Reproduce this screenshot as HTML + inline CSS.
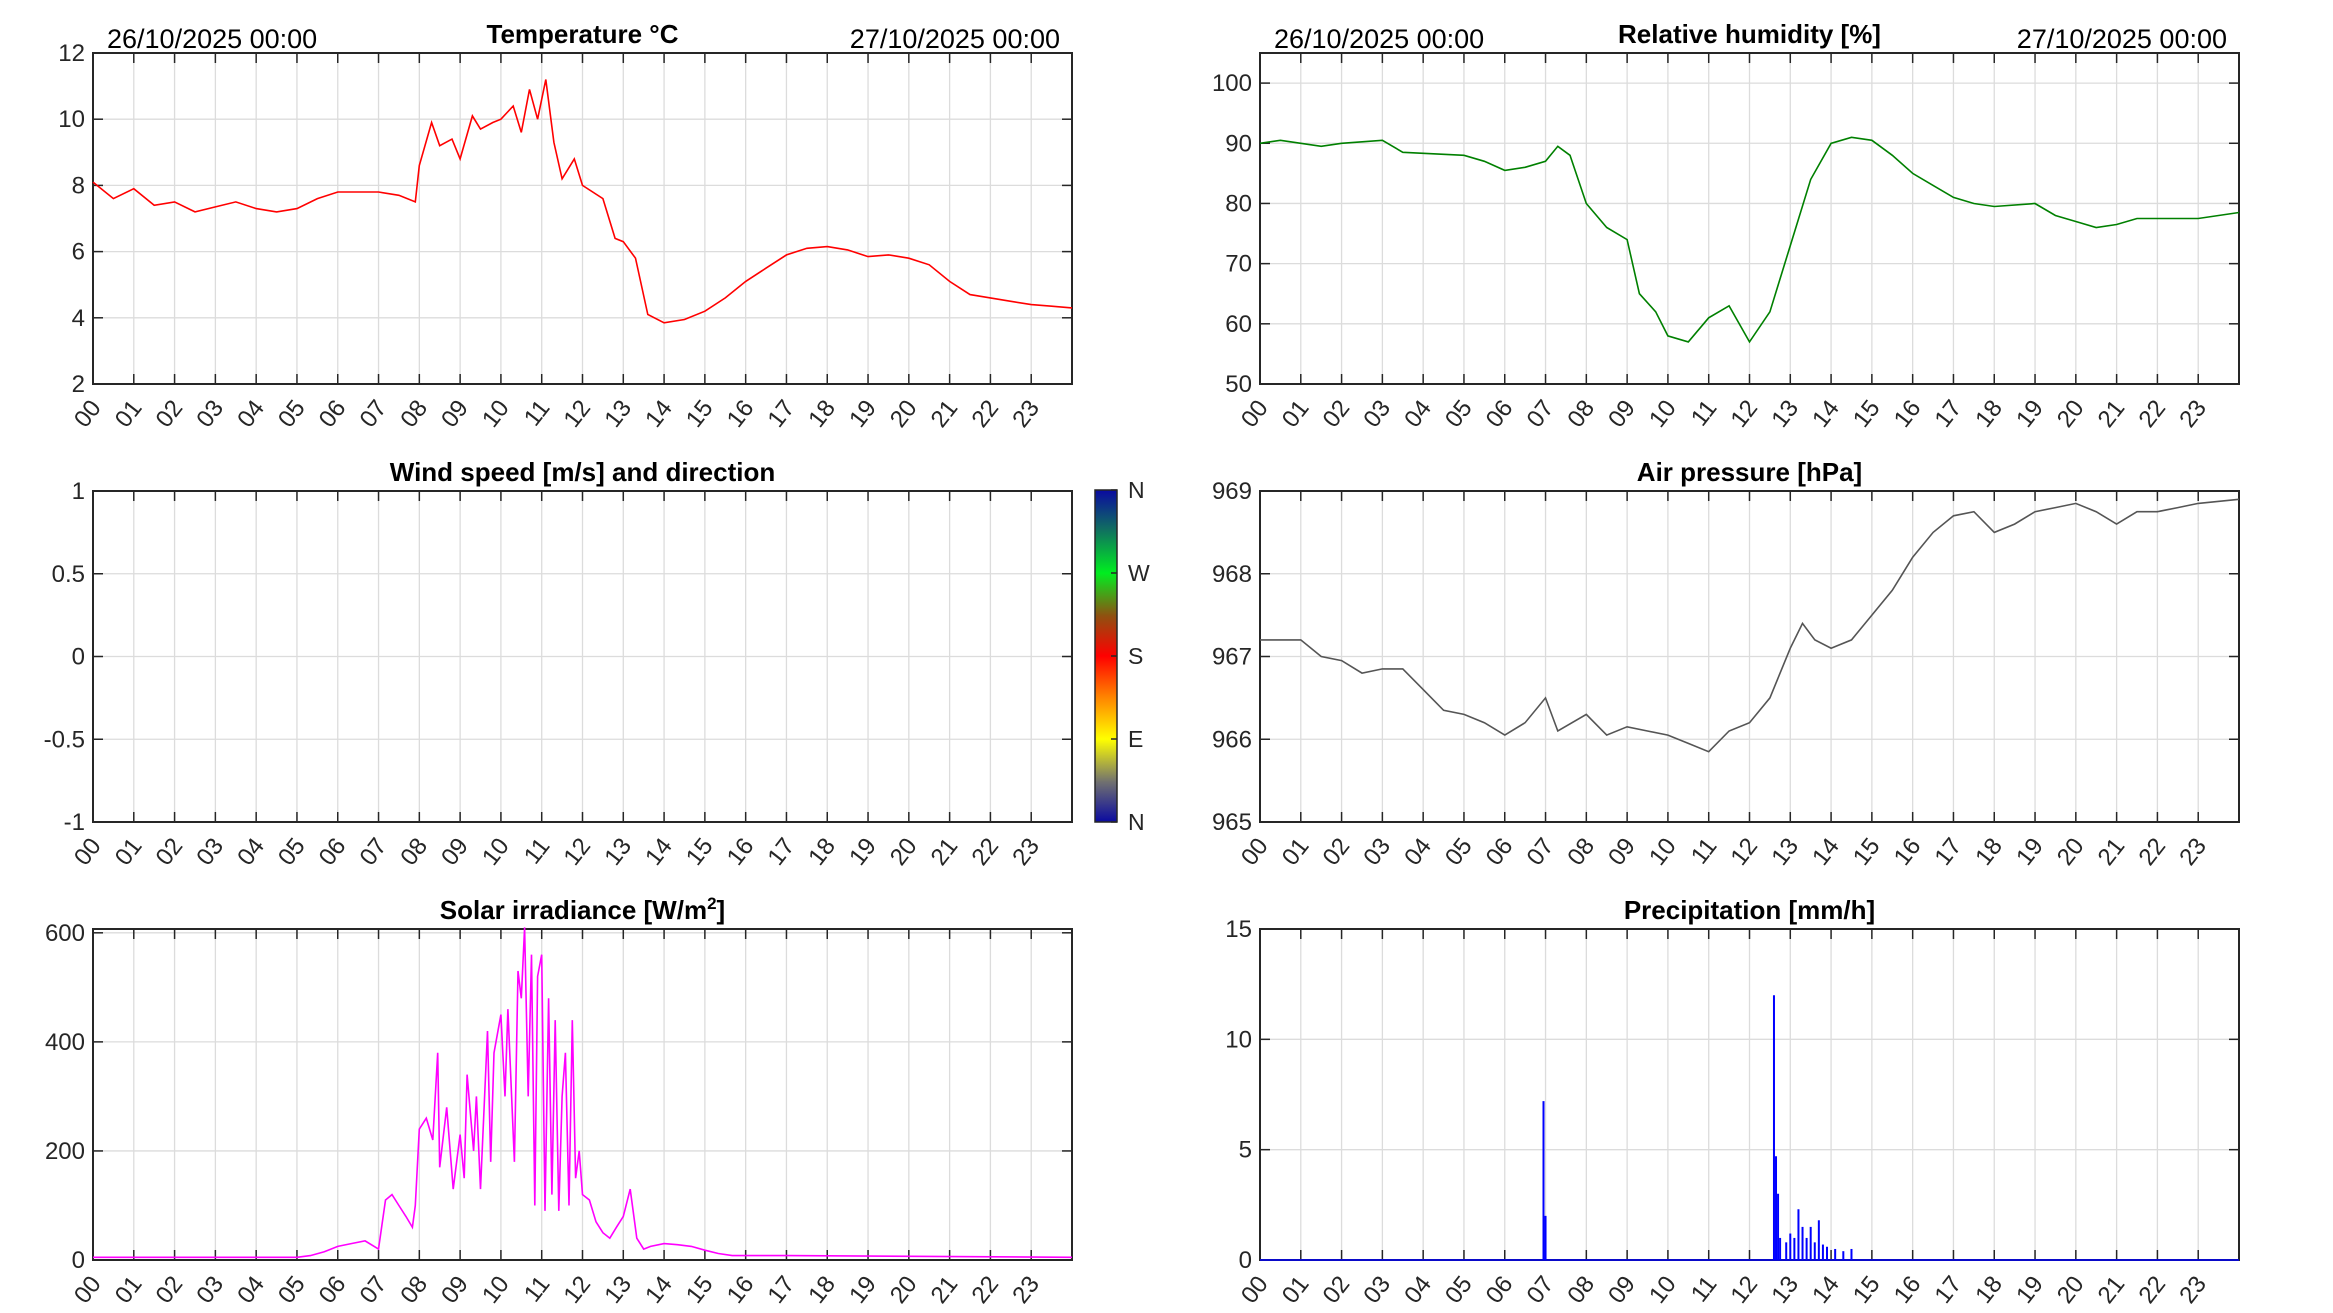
<!DOCTYPE html>
<html><head><meta charset="utf-8"><style>
html,body{margin:0;padding:0;background:#fff;}
svg{display:block;font-family:"Liberation Sans",sans-serif;}
</style></head><body>
<svg id="s" width="2333" height="1313" viewBox="0 0 2333 1313" xmlns="http://www.w3.org/2000/svg">
<defs>
<linearGradient id="cb" x1="0" y1="1" x2="0" y2="0">
<stop offset="0" stop-color="#0a0aa0"/><stop offset="0.12" stop-color="#707070"/><stop offset="0.25" stop-color="#ffff00"/>
<stop offset="0.38" stop-color="#ff8000"/><stop offset="0.5" stop-color="#ff0000"/><stop offset="0.62" stop-color="#905010"/>
<stop offset="0.75" stop-color="#00ee20"/><stop offset="0.88" stop-color="#107060"/><stop offset="1" stop-color="#0a0aa0"/>
</linearGradient>
</defs>
</svg>
<script>
const tempT=[0,0.5,1,1.5,2,2.5,3,3.5,4,4.5,5,5.5,6,6.5,7,7.5,7.9,8,8.3,8.5,8.8,9,9.3,9.5,9.8,10,10.3,10.5,10.7,10.9,11.1,11.3,11.5,11.8,12,12.5,12.8,13,13.3,13.6,14,14.5,15,15.5,16,16.5,17,17.5,18,18.5,19,19.5,20,20.5,21,21.5,22,22.5,23,23.5,24];
const tempV=[8.1,7.6,7.9,7.4,7.5,7.2,7.35,7.5,7.3,7.2,7.3,7.6,7.8,7.8,7.8,7.7,7.5,8.6,9.9,9.2,9.4,8.8,10.1,9.7,9.9,10.0,10.4,9.6,10.9,10.0,11.2,9.3,8.2,8.8,8.0,7.6,6.4,6.3,5.8,4.1,3.85,3.95,4.2,4.6,5.1,5.5,5.9,6.1,6.15,6.05,5.85,5.9,5.8,5.6,5.1,4.7,4.6,4.5,4.4,4.35,4.3];
const humT=[0,0.5,1,1.5,2,3,3.5,5,5.5,6,6.5,7,7.3,7.6,8,8.5,9,9.3,9.7,10,10.5,11,11.5,12,12.5,13,13.5,14,14.5,15,15.5,16,16.5,17,17.5,18,19,19.5,20,20.5,21,21.5,22,23,24];
const humV=[90,90.5,90,89.5,90,90.5,88.5,88,87,85.5,86,87,89.5,88,80,76,74,65,62,58,57,61,63,57,62,73,84,90,91,90.5,88,85,83,81,80,79.5,80,78,77,76,76.5,77.5,77.5,77.5,78.5];
const presT=[0,0.5,1,1.5,2,2.5,3,3.5,4,4.5,5,5.5,6,6.5,7,7.3,8,8.5,9,9.5,10,10.5,11,11.5,12,12.5,13,13.3,13.6,14,14.5,15,15.5,16,16.5,17,17.5,18,18.5,19,19.5,20,20.5,21,21.5,22,22.5,23,24];
const presV=[967.2,967.2,967.2,967.0,966.95,966.8,966.85,966.85,966.6,966.35,966.3,966.2,966.05,966.2,966.5,966.1,966.3,966.05,966.15,966.1,966.05,965.95,965.85,966.1,966.2,966.5,967.1,967.4,967.2,967.1,967.2,967.5,967.8,968.2,968.5,968.7,968.75,968.5,968.6,968.75,968.8,968.85,968.75,968.6,968.75,968.75,968.8,968.85,968.9];
const solT=[0,5,5.33,5.67,6,6.33,6.67,7,7.17,7.33,7.5,7.67,7.83,7.9,8,8.17,8.33,8.45,8.5,8.67,8.83,9,9.1,9.17,9.33,9.4,9.5,9.67,9.75,9.83,10,10.1,10.17,10.33,10.42,10.5,10.58,10.67,10.75,10.83,10.9,11,11.08,11.17,11.25,11.33,11.42,11.5,11.58,11.67,11.75,11.83,11.92,12,12.17,12.33,12.5,12.67,12.83,13,13.17,13.33,13.5,13.67,14,14.33,14.67,15,15.33,15.67,16,17,24];
const solV=[5,5,8,15,25,30,35,20,110,120,100,80,60,100,240,260,220,380,170,280,130,230,150,340,200,300,130,420,180,380,450,300,460,180,530,480,610,300,560,100,520,560,90,480,120,440,90,300,380,100,440,150,200,120,110,70,50,40,60,80,130,40,20,25,30,28,25,18,12,8,8,8,5];
const precT=[6.95,7.0,12.6,12.65,12.7,12.75,12.9,13.0,13.1,13.2,13.3,13.4,13.5,13.6,13.7,13.8,13.9,14.1,14.3,14.5];
const precV=[7.2,2.0,12,4.7,3.0,1.0,0.8,1.2,1.0,2.3,1.5,1.0,1.5,0.8,1.8,0.7,0.6,0.5,0.4,0.5];
const hourLabels=["00","01","02","03","04","05","06","07","08","09","10","11","12","13","14","15","16","17","18","19","20","21","22","23"];

const S=document.getElementById('s');const NS='http://www.w3.org/2000/svg';
function mk(tag,attrs,parent){const e=document.createElementNS(NS,tag);for(const k in attrs)e.setAttribute(k,attrs[k]);(parent||S).appendChild(e);return e;}
const W=979,H=331;
function panel(name,x0,y0,ymin,ymax,yticks,title,tag){
  const g=mk('g',{});
  
  
  const X=t=>x0+t/24*W, Y=v=>y0+H-(v-ymin)/(ymax-ymin)*H;
  for(let h=1;h<24;h++){const l=mk('line',{x1:X(h),x2:X(h),y1:y0,y2:y0+H,stroke:'#dcdcdc','stroke-width':1.3},g);}
  yticks.forEach(v=>{const l=mk('line',{x1:x0,x2:x0+W,y1:Y(v),y2:Y(v),stroke:'#dcdcdc','stroke-width':1.3},g);});
  mk('rect',{x:x0,y:y0,width:W,height:H,fill:'none',stroke:'#262626','stroke-width':2},g);
  for(let h=0;h<24;h++){
    mk('line',{x1:X(h),x2:X(h),y1:y0+H,y2:y0+H-10,stroke:'#262626','stroke-width':1.5},g);
    mk('line',{x1:X(h),x2:X(h),y1:y0,y2:y0+10,stroke:'#262626','stroke-width':1.5},g);
    const t=mk('text',{x:0,y:0,'font-size':24,fill:'#262626','text-anchor':'end',transform:`translate(${X(h)+9},${y0+H+24}) rotate(-52)`},g);
    
    
    t.textContent=hourLabels[h];
  }
  yticks.forEach(v=>{
    mk('line',{x1:x0,x2:x0+10,y1:Y(v),y2:Y(v),stroke:'#262626','stroke-width':1.5},g);
    mk('line',{x1:x0+W,x2:x0+W-10,y1:Y(v),y2:Y(v),stroke:'#262626','stroke-width':1.5},g);
    const t=mk('text',{x:x0-8,y:Y(v)+8,'font-size':24,fill:'#262626','text-anchor':'end'},g);
    
    
    t.textContent=String(v);
  });
  const tt=mk('text',{x:x0+W/2,y:y0-10,'font-size':26,'font-weight':'bold','text-anchor':'middle',fill:'#000'},g);
  
  
  tt.innerHTML=title;
  if(tag){
    const a=mk('text',{x:x0+14,y:y0-5,'font-size':27,fill:'#000'},g);
    
    
    a.textContent='26/10/2025 00:00';
    const b=mk('text',{x:x0+W-12,y:y0-5,'font-size':27,fill:'#000','text-anchor':'end'},g);
    
    
    b.textContent='27/10/2025 00:00';
  }
  return {g,X,Y};
}
function line(p,ts,vs,color,name){
  const d=ts.map((t,i)=>(i?'L':'M')+p.X(t).toFixed(1)+','+p.Y(vs[i]).toFixed(1)).join('');
  const e=mk('path',{d,fill:'none',stroke:color,'stroke-width':1.6},p.g);
  
  
}
const L=93,R=1260,r1=53,r2=491,r3=929;
const p1=panel('temperature-panel',L,r1,2,12,[2,4,6,8,10,12],'Temperature °C',true);
line(p1,tempT,tempV,'#ff0000','temperature-line');
const p2=panel('humidity-panel',R,r1,50,105,[50,60,70,80,90,100],'Relative humidity [%]',true);
line(p2,humT,humV,'#008000','humidity-line');
const p3=panel('wind-panel',L,r2,-1,1,[-1,-0.5,0,0.5,1],'Wind speed [m/s] and direction',false);
const p4=panel('pressure-panel',R,r2,965,969,[965,966,967,968,969],'Air pressure [hPa]',false);
line(p4,presT,presV,'#555555','pressure-line');
const p5=panel('solar-panel',L,r3,0,607,[0,200,400,600],'Solar irradiance [W/m<tspan dy="-10" font-size="17">2</tspan><tspan dy="10">]</tspan>',false);
line(p5,solT,solV,'#ff00ff','solar-line');
const p6=panel('precipitation-panel',R,r3,0,15,[0,5,10,15],'Precipitation [mm/h]',false);
line(p6,[0,24],[0,0],'#0000ff','precip-baseline');
precT.forEach((t,i)=>{const e=mk('line',{x1:p6.X(t),x2:p6.X(t),y1:p6.Y(0),y2:p6.Y(precV[i]),stroke:'#0000ff','stroke-width':2},p6.g);

});
const cb=mk('g',{});


mk('rect',{x:1095,y:490,width:22,height:332,fill:'url(#cb)',stroke:'#262626','stroke-width':1.5},cb);
['N','E','S','W','N'].forEach((d,i)=>{const y=822-i*83;
mk('line',{x1:1111,x2:1117,y1:y,y2:y,stroke:'#262626','stroke-width':1.5},cb);
const t=mk('text',{x:1128,y:y+8,'font-size':23,fill:'#262626'},cb);


t.textContent=d;});
</script>
</body></html>
